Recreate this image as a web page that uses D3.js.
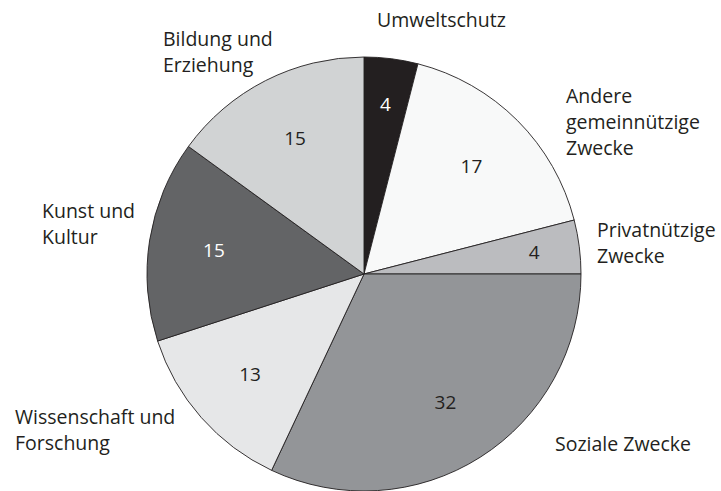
<!DOCTYPE html>
<html>
<head>
<meta charset="utf-8">
<script src="https://cdn.jsdelivr.net/npm/d3@7"></script>
<style>
  body { margin: 0; background: #fff; }
  svg text { font-family: "Open Sans", "Noto Sans", sans-serif; }
</style>
</head>
<body>
<div class="chart"></div>
<script>
// data (percent)
var categories = ['Umweltschutz', 'Andere gemeinnützige Zwecke', 'Privatnützige Zwecke', 'Soziale Zwecke',
                  'Wissenschaft und Forschung', 'Kunst und Kultur', 'Bildung und Erziehung'];
var values = [4, 17, 4, 32, 13, 15, 15];
var colors = ['#231f20', '#f8f9f9', '#bbbcbf', '#939598', '#e6e7e8', '#636466', '#d1d3d4'];
var valueColors = ['#fff', '#231f20', '#231f20', '#231f20', '#231f20', '#fff', '#231f20'];
var labelLines = [['Umweltschutz'], ['Andere', 'gemeinnützige', 'Zwecke'], ['Privatnützige', 'Zwecke'],
                  ['Soziale Zwecke'], ['Wissenschaft und', 'Forschung'], ['Kunst und', 'Kultur'], ['Bildung und', 'Erziehung']];

// layout
const width = 721, height = 491;
const cx = 364, cy = 274, radius = 217;
const lineH = 26;
// where each outer label starts (left x, first baseline)
var labelPos = [[377, 27], [566, 103], [597, 237], [555, 451], [15, 424], [42, 218], [163, 46]];

var svg = d3.select('.chart')
            .append('svg')
            .attr('width', width)
            .attr('height', height);

var pie = d3.pie().sort(null).value(d => d);
var arcs = pie(values);

var arc = d3.arc().innerRadius(0).outerRadius(radius);
// smaller slices get their number further out
var labelArc = d => {
    var r = d.data < 5 ? radius * 0.79 : radius * 0.7;
    return d3.arc().innerRadius(r).outerRadius(r).centroid(d);
};

var g = svg.append('g')
           .attr('transform', `translate(${cx}, ${cy})`);

g.selectAll('path')
    .data(arcs)
    .enter()
    .append('path')
    .attr('d', arc)
    .attr('fill', (d, i) => colors[i])
    .attr('stroke', '#231f20')
    .attr('stroke-width', 0.9);

g.selectAll('.val')
    .data(arcs)
    .enter()
    .append('text')
    .attr('class', 'val')
    .attr('transform', d => `translate(${labelArc(d)})`)
    .attr('dy', '0.35em')
    .style('text-anchor', 'middle')
    .style('font-size', '19px')
    .style('fill', (d, i) => valueColors[i])
    .text(d => d.data);

// outer labels
var labels = svg.selectAll('.labels')
    .data(categories)
    .enter()
    .append('text')
    .attr('class', 'labels')
    .attr('x', (d, i) => labelPos[i][0])
    .attr('y', (d, i) => labelPos[i][1])
    .style('font-size', '19.5px')
    .style('fill', '#231f20');

labels.selectAll('tspan')
    .data((d, i) => labelLines[i].map(t => ({t: t, x: labelPos[i][0]})))
    .enter()
    .append('tspan')
    .attr('x', d => d.x)
    .attr('dy', (d, j) => j === 0 ? 0 : lineH)
    .text(d => d.t);
</script>
</body>
</html>
